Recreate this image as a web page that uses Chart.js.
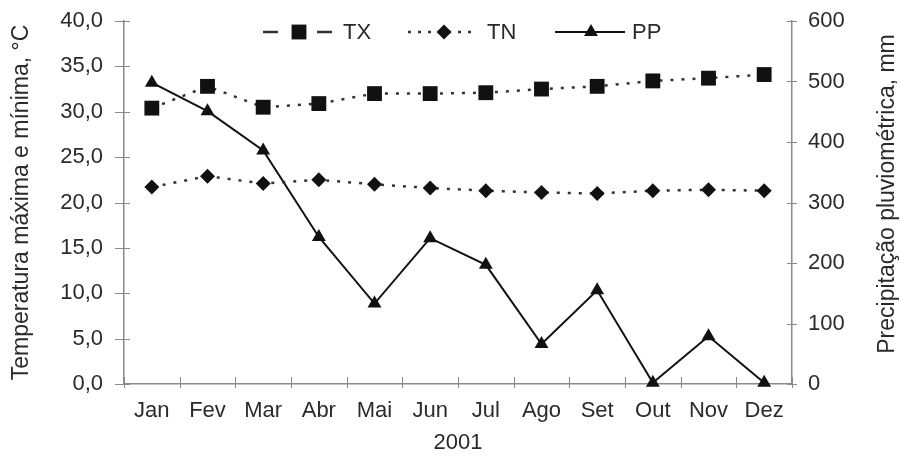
<!DOCTYPE html>
<html>
<head>
<meta charset="utf-8">
<script src="https://cdn.jsdelivr.net/npm/chart.js@4.4.1/dist/chart.umd.min.js"></script>
<style>
  html, body { margin: 0; background: #fff; }
</style>
</head>
<body>
<canvas id="chart" width="901" height="456"></canvas>
<script>
// monthly climate data, 2001
const months = ["Jan", "Fev", "Mar", "Abr", "Mai", "Jun", "Jul", "Ago", "Set", "Out", "Nov", "Dez"];
const tx = [30.4, 32.8, 30.5, 30.9, 32.0, 32.0, 32.1, 32.5, 32.8, 33.4, 33.7, 34.1];
const tn = [21.7, 22.9, 22.1, 22.5, 22.0, 21.6, 21.3, 21.1, 21.0, 21.3, 21.4, 21.3];
const pp = [498, 451, 386, 243, 133, 241, 197, 66, 155, 2, 79, 2];
const tempRange = [0, 40, 5];
const rainRange = [0, 600, 100];

const FONT = "'Liberation Sans', Arial, sans-serif";
const TEXT = "#2a2a2a";
const AXIS = "#8a8a8a";

function marker(ctx, style, x, y, r) {
  ctx.beginPath();
  if (style === "rect") {
    const s = r * Math.SQRT1_2;
    ctx.rect(x - s, y - s, 2 * s, 2 * s);
  } else if (style === "rectRot") {
    ctx.moveTo(x, y - r); ctx.lineTo(x + r, y); ctx.lineTo(x, y + r); ctx.lineTo(x - r, y);
    ctx.closePath();
  } else {
    const h = r * 1.5, w = r * Math.sqrt(3) / 2;
    ctx.moveTo(x, y - r); ctx.lineTo(x + w, y - r + h); ctx.lineTo(x - w, y - r + h);
    ctx.closePath();
  }
  ctx.fill();
}

// legend row at the top of the plot, line + marker + label
const lineLegend = {
  id: "lineLegend",
  afterDraw(chart) {
    const ctx = chart.ctx;
    const starts = [263, 408, 555];
    const textAt = [343, 487, 632];
    ctx.save();
    chart.data.datasets.forEach((ds, i) => {
      const x0 = starts[i], y = 32;
      ctx.strokeStyle = ds.borderColor;
      ctx.lineWidth = ds.borderWidth;
      ctx.setLineDash(ds.legendDash || []);
      ctx.beginPath(); ctx.moveTo(x0, y); ctx.lineTo(x0 + 70, y); ctx.stroke();
      ctx.setLineDash([]);
      ctx.fillStyle = ds.pointBackgroundColor;
      marker(ctx, ds.pointStyle, x0 + 36, y, ds.pointRadius);
      ctx.fillStyle = TEXT;
      ctx.font = "22px " + FONT;
      ctx.textBaseline = "middle";
      ctx.fillText(ds.label, textAt[i], y + 1);
    });
    ctx.restore();
  }
};

// tick marks that cross the axis lines, plus the right-hand title read bottom-up
const axisExtras = {
  id: "axisExtras",
  afterDraw(chart) {
    const ctx = chart.ctx;
    const { x, y, y1 } = chart.scales;
    ctx.save();
    ctx.strokeStyle = AXIS;
    ctx.lineWidth = 1;
    ctx.beginPath();
    const half = (x.getPixelForValue(1) - x.getPixelForValue(0)) / 2;
    for (let i = 0; i <= months.length; i++) {
      const px = Math.round(x.getPixelForValue(0) - half + i * 2 * half) + 0.5;
      ctx.moveTo(px, x.top - 7); ctx.lineTo(px, x.top + 4);
    }
    y.ticks.forEach((t) => {
      const py = Math.round(y.getPixelForValue(t.value)) + 0.5;
      ctx.moveTo(y.right - 9, py); ctx.lineTo(y.right + 6, py);
    });
    y1.ticks.forEach((t) => {
      const py = Math.round(y1.getPixelForValue(t.value)) + 0.5;
      ctx.moveTo(y1.left - 5, py); ctx.lineTo(y1.left + 5, py);
    });
    ctx.stroke();

    ctx.fillStyle = TEXT;
    ctx.font = "23px " + FONT;
    ctx.textAlign = "center";
    ctx.textBaseline = "middle";
    ctx.translate(888, 194);
    ctx.rotate(-Math.PI / 2);
    ctx.fillText("Precipitação pluviométrica, mm", 0, 0);
    ctx.restore();
  }
};

// vertical axes: fixed width, and no extra top/bottom room for the end labels
const fixVertical = (w) => (s) => { s.width = w; s.paddingTop = 0; s.paddingBottom = 0; };

new Chart(document.getElementById("chart"), {
  type: "line",
  data: {
    labels: months,
    datasets: [
      {
        label: "TX", data: tx, yAxisID: "y",
        borderColor: "#333", borderWidth: 2.5, borderDash: [3, 8], legendDash: [15, 39],
        pointStyle: "rect", pointRadius: 10.5, pointBackgroundColor: "#111", pointBorderColor: "#111", pointBorderWidth: 0,
        clip: false,
      },
      {
        label: "TN", data: tn, yAxisID: "y",
        borderColor: "#333", borderWidth: 2.5, borderDash: [3, 8], legendDash: [3, 7],
        pointStyle: "rectRot", pointRadius: 7.5, pointBackgroundColor: "#111", pointBorderColor: "#111", pointBorderWidth: 0,
        clip: false,
      },
      {
        label: "PP", data: pp, yAxisID: "y1",
        borderColor: "#111", borderWidth: 2,
        pointStyle: "triangle", pointRadius: 8, pointBackgroundColor: "#111", pointBorderColor: "#111", pointBorderWidth: 0,
        clip: false,
      },
    ],
  },
  options: {
    responsive: false,
    animation: false,
    devicePixelRatio: 1,
    layout: { padding: { top: 21, left: 0, right: 0, bottom: 0 } },
    plugins: { legend: { display: false }, tooltip: { enabled: false } },
    scales: {
      x: {
        offset: true,
        grid: { display: false, drawTicks: false, tickLength: 0 },
        border: { display: true, color: AXIS, width: 1.5 },
        ticks: { color: TEXT, font: { family: FONT, size: 22 }, padding: 14, maxRotation: 0 },
        title: { display: true, text: "2001", color: TEXT, font: { family: FONT, size: 22 }, padding: { top: 0, bottom: 0 } },
        afterFit: (s) => { s.height = 72; },
      },
      y: {
        position: "left",
        min: tempRange[0], max: tempRange[1],
        grid: { display: false, drawTicks: false, tickLength: 0 },
        border: { display: true, color: AXIS, width: 1.5 },
        ticks: { stepSize: tempRange[2], color: TEXT, font: { family: FONT, size: 22 }, padding: 21,
                 callback: (v) => v.toFixed(1).replace(".", ",") },
        title: { display: true, text: "Temperatura máxima e mínima, °C", color: TEXT,
                 font: { family: FONT, size: 23 }, padding: { top: 8, bottom: 0 } },
        afterFit: fixVertical(124),
      },
      y1: {
        position: "right",
        min: rainRange[0], max: rainRange[1],
        grid: { display: false, drawTicks: false, tickLength: 0 },
        border: { display: true, color: AXIS, width: 1.5 },
        ticks: { stepSize: rainRange[2], color: TEXT, font: { family: FONT, size: 22 }, padding: 16 },
        afterFit: fixVertical(109),
      },
    },
  },
  plugins: [lineLegend, axisExtras],
});
</script>
</body>
</html>
